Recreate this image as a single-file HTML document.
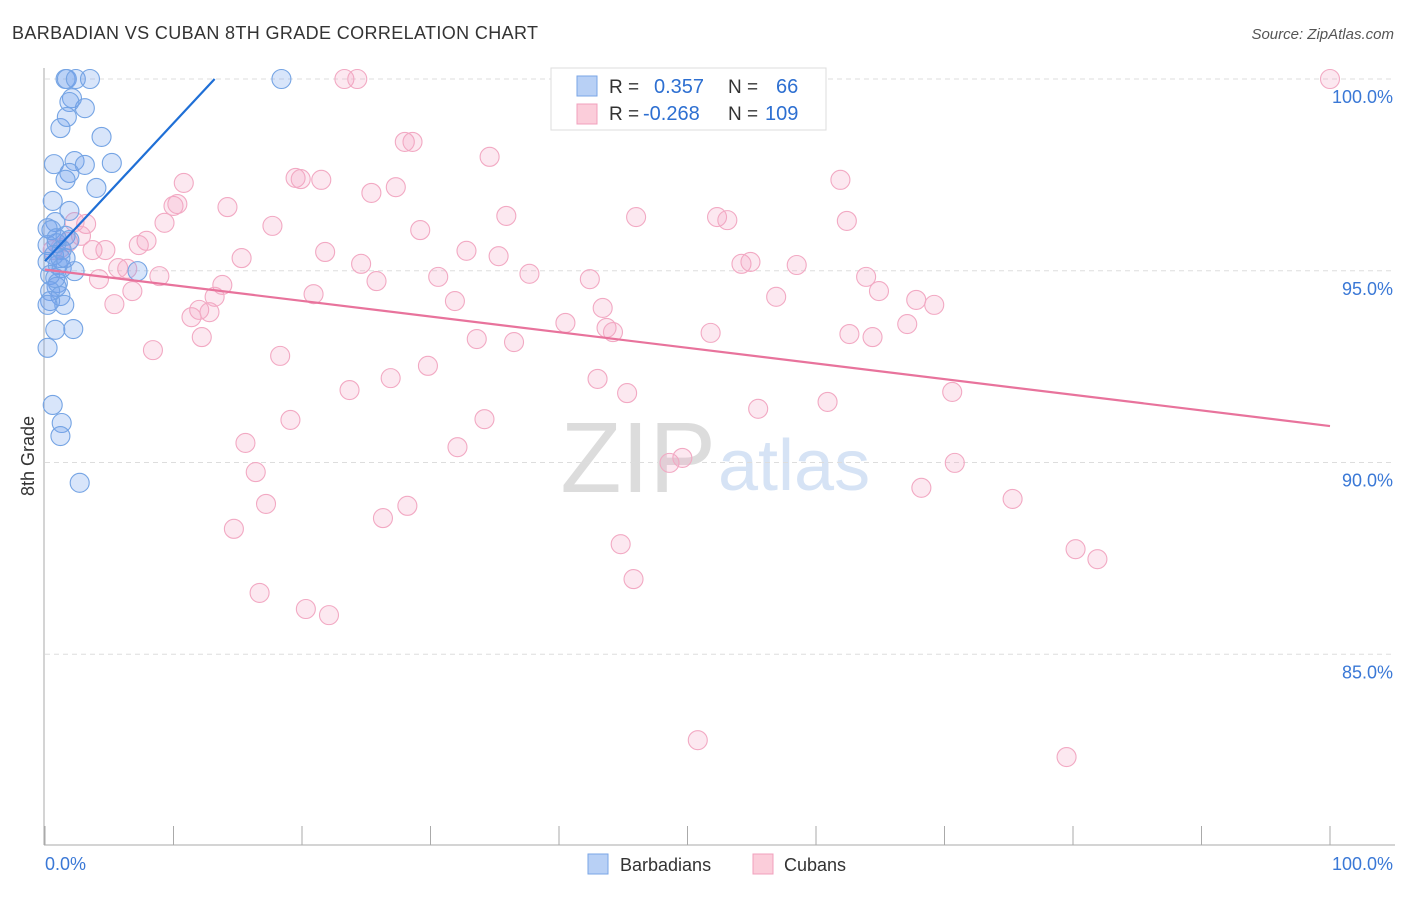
<!DOCTYPE html>
<html><head><meta charset="utf-8"><style>
body{margin:0;background:#fff;font-family:"Liberation Sans",sans-serif}
svg text{font-family:"Liberation Sans",sans-serif}
</style></head><body>
<svg id="c" width="1406" height="892">
<text x="12" y="39" font-size="18" fill="#333" textLength="526">BARBADIAN VS CUBAN 8TH GRADE CORRELATION CHART</text>
<text x="1394" y="39" font-size="15" fill="#555" text-anchor="end" font-style="italic">Source: ZipAtlas.com</text>
<text x="34" y="456" font-size="18" fill="#333" text-anchor="middle" transform="rotate(-90 34 456)">8th Grade</text>
<text x="716" y="492" font-size="100" fill="#dcdcdc" text-anchor="end" font-family="Liberation Serif">ZIP</text>
<text x="718" y="490" font-size="72" fill="#d6e3f5">atlas</text>
<g id="grid"></g><g id="axes"></g><g id="pts"></g><g id="lines"></g>
<g>
<rect x="551" y="68" width="275" height="62" fill="#fff" stroke="#ddd"/>
<rect x="577" y="76" width="20" height="20" fill="#b8d0f5" stroke="#7aa6e6"/>
<rect x="577" y="104" width="20" height="20" fill="#fbcdda" stroke="#f0a0bc"/>
<text x="609" y="93" font-size="19" fill="#333">R =</text><text x="654" y="93" font-size="20" fill="#2d6fd1">0.357</text>
<text x="728" y="93" font-size="19" fill="#333">N =</text><text x="776" y="93" font-size="20" fill="#2d6fd1">66</text>
<text x="609" y="120" font-size="19" fill="#333">R =</text><text x="643" y="120" font-size="20" fill="#2d6fd1">-0.268</text>
<text x="728" y="120" font-size="19" fill="#333">N =</text><text x="765" y="120" font-size="20" fill="#2d6fd1">109</text>
</g>
<g>
<rect x="588" y="854" width="20" height="20" fill="#b8d0f5" stroke="#7aa6e6"/>
<text x="620" y="871" font-size="18" fill="#333">Barbadians</text>
<rect x="753" y="854" width="20" height="20" fill="#fbcdda" stroke="#f0a0bc"/>
<text x="784" y="871" font-size="18" fill="#333">Cubans</text>
</g>
</svg>
<script>
const blueX=[1.6,1.7,2.4,3.5,18.4,2.1,3.1,1.9,1.2,1.7,4.4,2.3,3.1,5.2,0.7,1.9,1.6,4.0,0.6,1.9,0.8,0.2,0.5,1.6,1.9,0.9,0.2,1.3,0.7,1.2,0.2,1.0,1.3,2.3,7.2,0.4,1.0,0.9,0.4,1.2,0.4,1.5,0.2,0.8,2.2,0.2,0.6,1.3,1.2,2.7,0.9,1.6,0.8];
const blueY=[100,100,100,100,100,99.5,99.24,99.4,98.72,99.01,98.49,97.86,97.76,97.81,97.78,97.55,97.37,97.16,96.82,96.56,96.27,96.11,96.06,95.91,95.8,95.72,95.67,95.54,95.41,95.33,95.23,95.15,95.07,94.99,94.99,94.89,94.68,94.58,94.47,94.34,94.21,94.11,94.11,93.46,93.48,92.99,91.5,91.03,90.69,89.47,95.85,95.33,94.81];
const pinkX=[100,23.3,24.3,28.0,28.6,34.6,61.9,10.8,19.5,19.9,21.5,27.3,25.4,14.2,10.0,10.3,35.9,46.0,52.3,53.1,62.4,9.3,17.7,29.2,3.2,2.3,2.8,7.9,7.3,4.7,3.7,21.8,32.8,35.3,15.3,54.2,54.9,58.5,5.7,6.4,8.9,24.6,37.7,25.8,30.6,42.4,63.9,4.2,13.8,6.8,20.9,64.9,56.9,67.8,69.2,31.9,43.4,5.4,13.2,12.0,12.8,11.4,40.5,67.1,43.7,44.2,51.8,62.6,64.4,33.6,36.5,12.2,8.4,18.3,29.8,26.9,43.0,23.7,45.3,70.6,60.9,55.5,19.1,34.2,15.6,32.1,48.6,49.6,70.8,16.4,68.2,75.3,17.2,28.2,26.3,14.7,44.8,80.2,81.9,45.8,16.7,20.3,22.1,50.8,79.5,0.6,1.8,1.2];
const pinkY=[100,100,100,98.36,98.36,97.97,97.37,97.29,97.42,97.39,97.37,97.18,97.03,96.66,96.69,96.74,96.43,96.4,96.4,96.32,96.3,96.25,96.17,96.06,96.22,96.27,95.91,95.78,95.67,95.54,95.54,95.49,95.52,95.38,95.33,95.18,95.23,95.15,95.07,95.05,94.86,95.18,94.92,94.73,94.84,94.78,94.84,94.78,94.63,94.47,94.39,94.47,94.32,94.24,94.11,94.21,94.03,94.13,94.32,93.98,93.92,93.79,93.64,93.61,93.51,93.4,93.38,93.35,93.27,93.22,93.14,93.27,92.93,92.78,92.52,92.2,92.18,91.89,91.81,91.84,91.58,91.4,91.11,91.13,90.51,90.4,89.99,90.12,89.99,89.75,89.34,89.05,88.92,88.87,88.55,88.27,87.87,87.74,87.48,86.96,86.6,86.18,86.02,82.76,82.32,95.54,95.75,95.59];
const yTicks=[100,95,90,85];
const yTickLabels=["100.0%","95.0%","90.0%","85.0%"];
const blueTrend=[[0,95.25],[13.2,100]];
const pinkTrend=[[0,95.03],[100,90.95]];
const NS="http://www.w3.org/2000/svg";
const sx=v=>45+v*12.85, sy=v=>79+(100-v)*38.35;
function mk(t,a,p){const e=document.createElementNS(NS,t);for(const k in a)e.setAttribute(k,a[k]);p.appendChild(e);return e;}
const grid=document.getElementById('grid'),axes=document.getElementById('axes'),pts=document.getElementById('pts'),lines=document.getElementById('lines');
yTicks.forEach((t,i)=>{
 const l=mk('line',{x1:45,x2:1395,y1:sy(t),y2:sy(t),stroke:'#ddd','stroke-dasharray':'5,4'},grid);
 
 
 const tx=mk('text',{x:1393,y:sy(t)+24,'font-size':18,fill:'#3a78d6','text-anchor':'end'},grid);
 tx.textContent=yTickLabels[i];
 
 
});
mk('line',{x1:44,x2:44,y1:68,y2:845,stroke:'#aaa'},axes);
mk('line',{x1:44,x2:1395,y1:845,y2:845,stroke:'#aaa'},axes);
for(let i=0;i<=10;i++){const t=mk('line',{x1:sx(i*10),x2:sx(i*10),y1:826,y2:845,stroke:'#aaa'},axes);
 
 }
const x0=mk('text',{x:45,y:870,'font-size':18,fill:'#3a78d6'},axes);x0.textContent='0.0%';


const x1=mk('text',{x:1393,y:870,'font-size':18,fill:'#3a78d6','text-anchor':'end'},axes);x1.textContent='100.0%';


pinkX.forEach((x,i)=>{const c=mk('circle',{cx:sx(x),cy:sy(pinkY[i]),r:9.5,fill:'rgba(245,165,195,0.25)',stroke:'#f2a9c3','stroke-width':1.1},pts);
 
 });
blueX.forEach((x,i)=>{const c=mk('circle',{cx:sx(x),cy:sy(blueY[i]),r:9.5,fill:'rgba(110,160,235,0.27)',stroke:'#75a4e4','stroke-width':1.1},pts);
 
 });
const bl=mk('line',{x1:sx(blueTrend[0][0]),y1:sy(blueTrend[0][1]),x2:sx(blueTrend[1][0]),y2:sy(blueTrend[1][1]),stroke:'#1f6fd6','stroke-width':2.2},lines);


const pl=mk('line',{x1:sx(pinkTrend[0][0]),y1:sy(pinkTrend[0][1]),x2:sx(pinkTrend[1][0]),y2:sy(pinkTrend[1][1]),stroke:'#e8739c','stroke-width':2.2},lines);


</script>
</body></html>
